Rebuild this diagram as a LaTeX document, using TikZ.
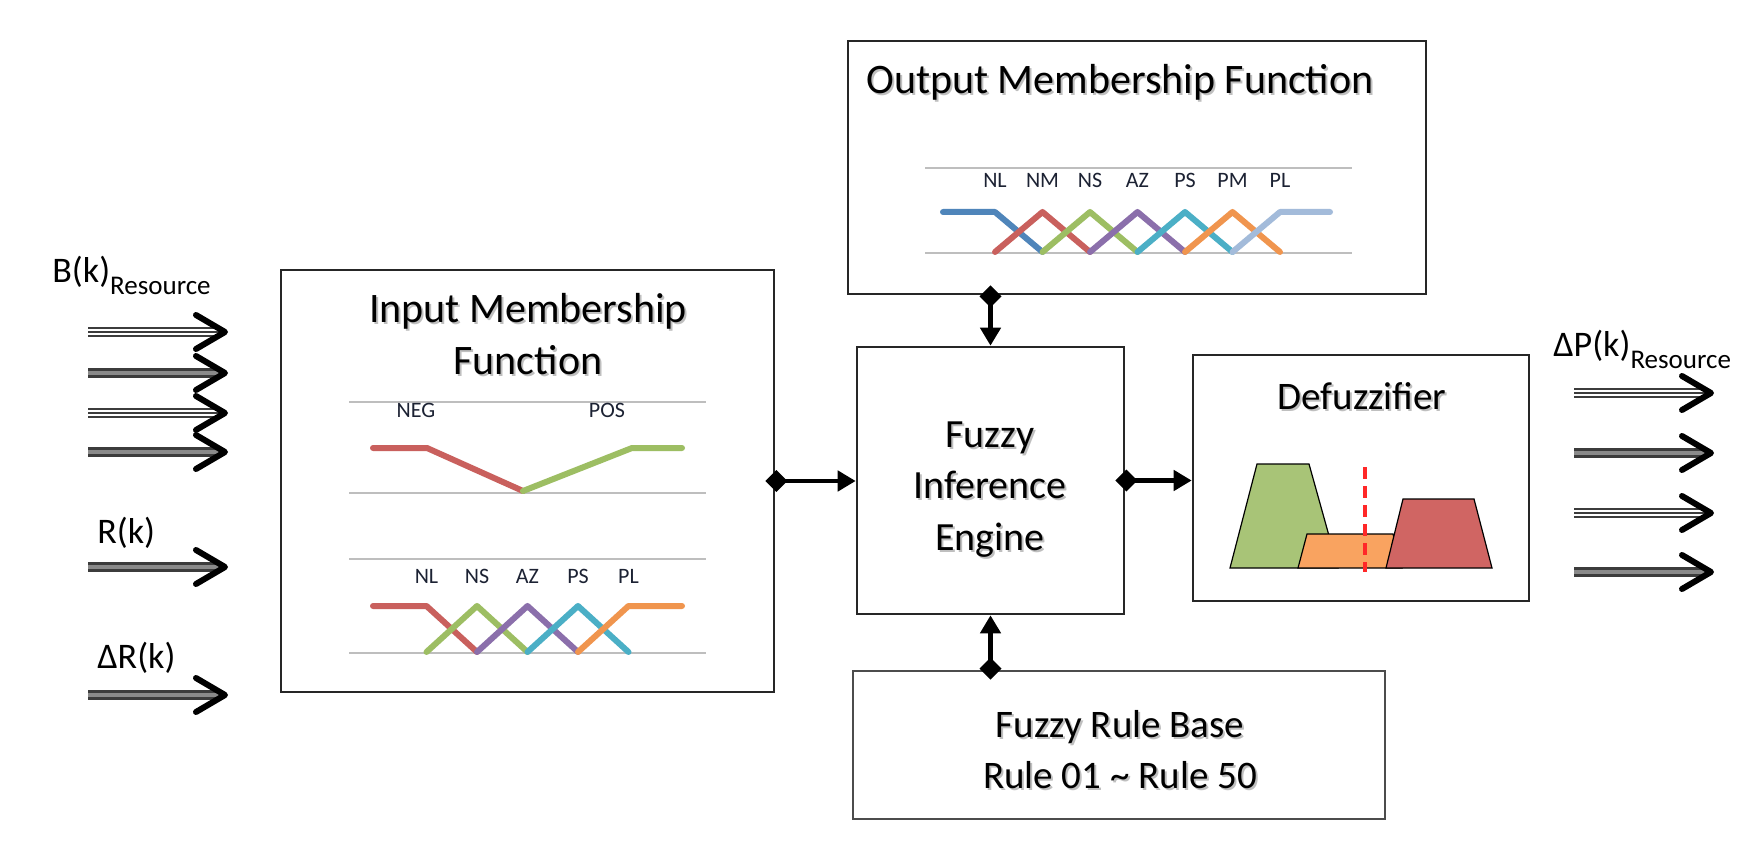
\documentclass[tikz,border=0pt]{standalone}
\usepackage{fontspec}
\setmainfont{Carlito}
\usetikzlibrary{arrows.meta,calc}

\definecolor{boxline}{HTML}{262626}
\definecolor{axisgray}{HTML}{BEBEBE}
\definecolor{labtext}{HTML}{1C2233}
\definecolor{mfred}{HTML}{C9605D}
\definecolor{mfgreen}{HTML}{9DBE63}
\definecolor{mfpurple}{HTML}{8B6FAB}
\definecolor{mfcyan}{HTML}{4BAFC6}
\definecolor{mforange}{HTML}{F0954E}
\definecolor{mfblue}{HTML}{4F85BA}
\definecolor{mflight}{HTML}{A3BBDA}
\definecolor{dzgreen}{HTML}{A8C477}
\definecolor{dzorange}{HTML}{F9A360}
\definecolor{dzred}{HTML}{D06563}
\definecolor{shaftdark}{HTML}{3C3C3C}
\definecolor{shaftmid}{HTML}{8A8A8A}

% one fat input/output arrow: name, x start, x tip, y, shaft style
\newcommand\fatarrow[5]{%
  \coordinate (#1s) at (#2,#4);
  \coordinate (#1e) at (#3,#4);
  \draw[#5] (#1s) -- ($(#1e)+(-6,0)$);
  \draw[chev] ($(#1e)+(-29,-17)$) -- (#1e) -- ($(#1e)+(-29,17)$);
}
% heading text with a soft drop shadow: name, position, font size, text
\newcommand\shtext[4]{%
  \node[title, font=\fontsize{#3}{24}\selectfont, text=black!45, opacity=0.55] (#1sh) at ($(#2)+(2,2)$) {#4};
  \node[title, font=\fontsize{#3}{24}\selectfont] (#1) at (#2) {#4};
}

\begin{document}
\begin{tikzpicture}[x=0.5pt,y=-0.5pt,
  box/.style={draw=boxline, line width=1.3pt, rectangle, inner sep=0pt, fill=white},
  title/.style={anchor=base, text=black, inner sep=0pt},
  mflab/.style={font=\fontsize{11}{12}\selectfont, anchor=base, text=labtext, inner sep=0pt},
  iolab/.style={font=\fontsize{18}{20}\selectfont, anchor=base west, inner sep=0pt},
  axis/.style={draw=axisgray, line width=1.3pt},
  mf/.style={line width=3pt, line cap=round, line join=round},
  conn/.style={draw=black, line width=2.4pt, shorten <=-5pt,
    {Diamond[length=11pt,width=11pt]}-{Triangle[length=9pt,width=10pt]}},
  chev/.style={draw=black, line width=3pt, line cap=round, line join=round},
  shaftA/.style={draw=shaftdark, line width=5pt,
    postaction={draw=white, line width=2.6pt},
    postaction={draw=shaftdark, line width=1.1pt}},
  shaftB/.style={draw=shaftdark, line width=5pt,
    postaction={draw=shaftmid, line width=2.2pt}}
]
\useasboundingbox (0,0) rectangle (1752,866);

% ---------- blocks ----------
\node[box, minimum width=246.5pt, minimum height=211pt] (inmf) at (527.5,481) {};
\node[box, minimum width=289pt, minimum height=126.5pt] (outmf) at (1137,167.5) {};
\node[box, minimum width=133.5pt, minimum height=133.5pt] (fie) at (990.5,480.5) {};
\node[box, minimum width=168pt, minimum height=123pt] (defz) at (1361,478) {};
\node[box, draw=black!70, minimum width=266pt, minimum height=74pt] (rule) at (1119,745) {};

% ---------- titles ----------
\shtext{inT1}{528,323}{21}{Input Membership}
\shtext{inT2}{528,375}{21}{Function}
\shtext{outT}{1120,94}{21}{Output Membership Function}
\shtext{fieT1}{990,447}{20}{Fuzzy}
\shtext{fieT2}{990,498}{20}{Inference}
\shtext{fieT3}{990,550}{20}{Engine}
\shtext{dzT}{1362,409}{19.5}{Defuzzifier}
\shtext{ruleT1}{1120,737}{19.5}{Fuzzy Rule Base}
\shtext{ruleT2}{1120,788}{19.5}{Rule 01 \textasciitilde{} Rule 50}

% ---------- input membership: NEG / POS ----------
\draw[axis] (349,402) -- (706,402);
\draw[axis] (349,493) -- (706,493);
\node[mflab] (lNEG) at (416,417) {NEG};
\node[mflab] (lPOS) at (607,417) {POS};
\draw[mf, mfred] (373,448) -- (427,448) -- (523,491);
\draw[mf, mfgreen] (523,491) -- (632,448) -- (682,448);

% ---------- input membership: five sets ----------
\draw[axis] (349,559) -- (706,559);
\draw[axis] (349,653) -- (706,653);
\foreach \lab/\xx in {NL/426.5, NS/477, AZ/527.5, PS/578, PL/628.5}
  \node[mflab] (in\lab) at (\xx,583) {\lab};
\draw[mf, mfred] (373,606) -- (426.5,606) -- (477,652);
\draw[mf, mfgreen] (426.5,652) -- (477,606) -- (527.5,652);
\draw[mf, mfpurple] (477,652) -- (527.5,606) -- (578,652);
\draw[mf, mfcyan] (527.5,652) -- (578,606) -- (628.5,652);
\draw[mf, mforange] (578,652) -- (628.5,606) -- (682,606);

% ---------- output membership: seven sets ----------
\draw[axis] (925,168) -- (1352,168);
\draw[axis] (925,253) -- (1352,253);
\foreach \lab/\xx in {NL/995, NM/1042.5, NS/1090, AZ/1137.5, PS/1185, PM/1232.5, PL/1280}
  \node[mflab] (out\lab) at (\xx,188) {\lab};
\draw[mf, mfblue] (943,212) -- (995,212) -- (1042.5,252);
\draw[mf, mfred] (995,252) -- (1042.5,212) -- (1090,252);
\draw[mf, mfgreen] (1042.5,252) -- (1090,212) -- (1137.5,252);
\draw[mf, mfpurple] (1090,252) -- (1137.5,212) -- (1185,252);
\draw[mf, mfcyan] (1137.5,252) -- (1185,212) -- (1232.5,252);
\draw[mf, mforange] (1185,252) -- (1232.5,212) -- (1280,252);
\draw[mf, mflight] (1232.5,252) -- (1280,212) -- (1330,212);

% ---------- defuzzifier sketch ----------
\draw[fill=dzgreen, line width=0.6pt] (1230,568) -- (1257,464) -- (1309,464) -- (1338,568) -- cycle;
\draw[fill=dzorange, line width=0.6pt] (1298,568) -- (1307,534) -- (1393,534) -- (1402,568) -- cycle;
\draw[fill=dzred, line width=0.6pt] (1386,568) -- (1403,499) -- (1474,499) -- (1492,568) -- cycle;
\draw[draw={rgb,255:red,255;green,40;blue,40}, line width=2.1pt, dash pattern=on 6pt off 3.5pt]
  (1365,467) -- (1365,572);

% ---------- connectors ----------
\draw[conn] (inmf.east) -- (fie.west |- inmf.east);
\draw[conn] (fie.east) -- (fie.east -| defz.west);
\draw[conn] (fie.north |- outmf.south) -- (fie.north);
\draw[conn] (fie.south |- rule.north) -- (fie.south);

% ---------- inputs ----------
\node[iolab] (bLab) at (52,283) {B(k)\raisebox{-6pt}{\fontsize{13.5}{14}\selectfont Resource}};
\node[iolab] (rLab) at (97,543) {R(k)};
\node[iolab] (drLab) at (97,668) {ΔR(k)};
\fatarrow{b1}{88}{225}{332}{shaftA}
\fatarrow{b2}{88}{225}{373}{shaftB}
\fatarrow{b3}{88}{225}{413}{shaftA}
\fatarrow{b4}{88}{225}{452}{shaftB}
\fatarrow{r}{88}{225}{567}{shaftB}
\fatarrow{dr}{88}{225}{695}{shaftB}

% ---------- outputs ----------
\node[iolab] (pLab) at (1553,357) {ΔP(k)\raisebox{-6pt}{\fontsize{13.5}{14}\selectfont Resource}};
\fatarrow{p1}{1574}{1711}{393}{shaftA}
\fatarrow{p2}{1574}{1711}{453}{shaftB}
\fatarrow{p3}{1574}{1711}{513}{shaftA}
\fatarrow{p4}{1574}{1711}{572}{shaftB}
\end{tikzpicture}
\end{document}
